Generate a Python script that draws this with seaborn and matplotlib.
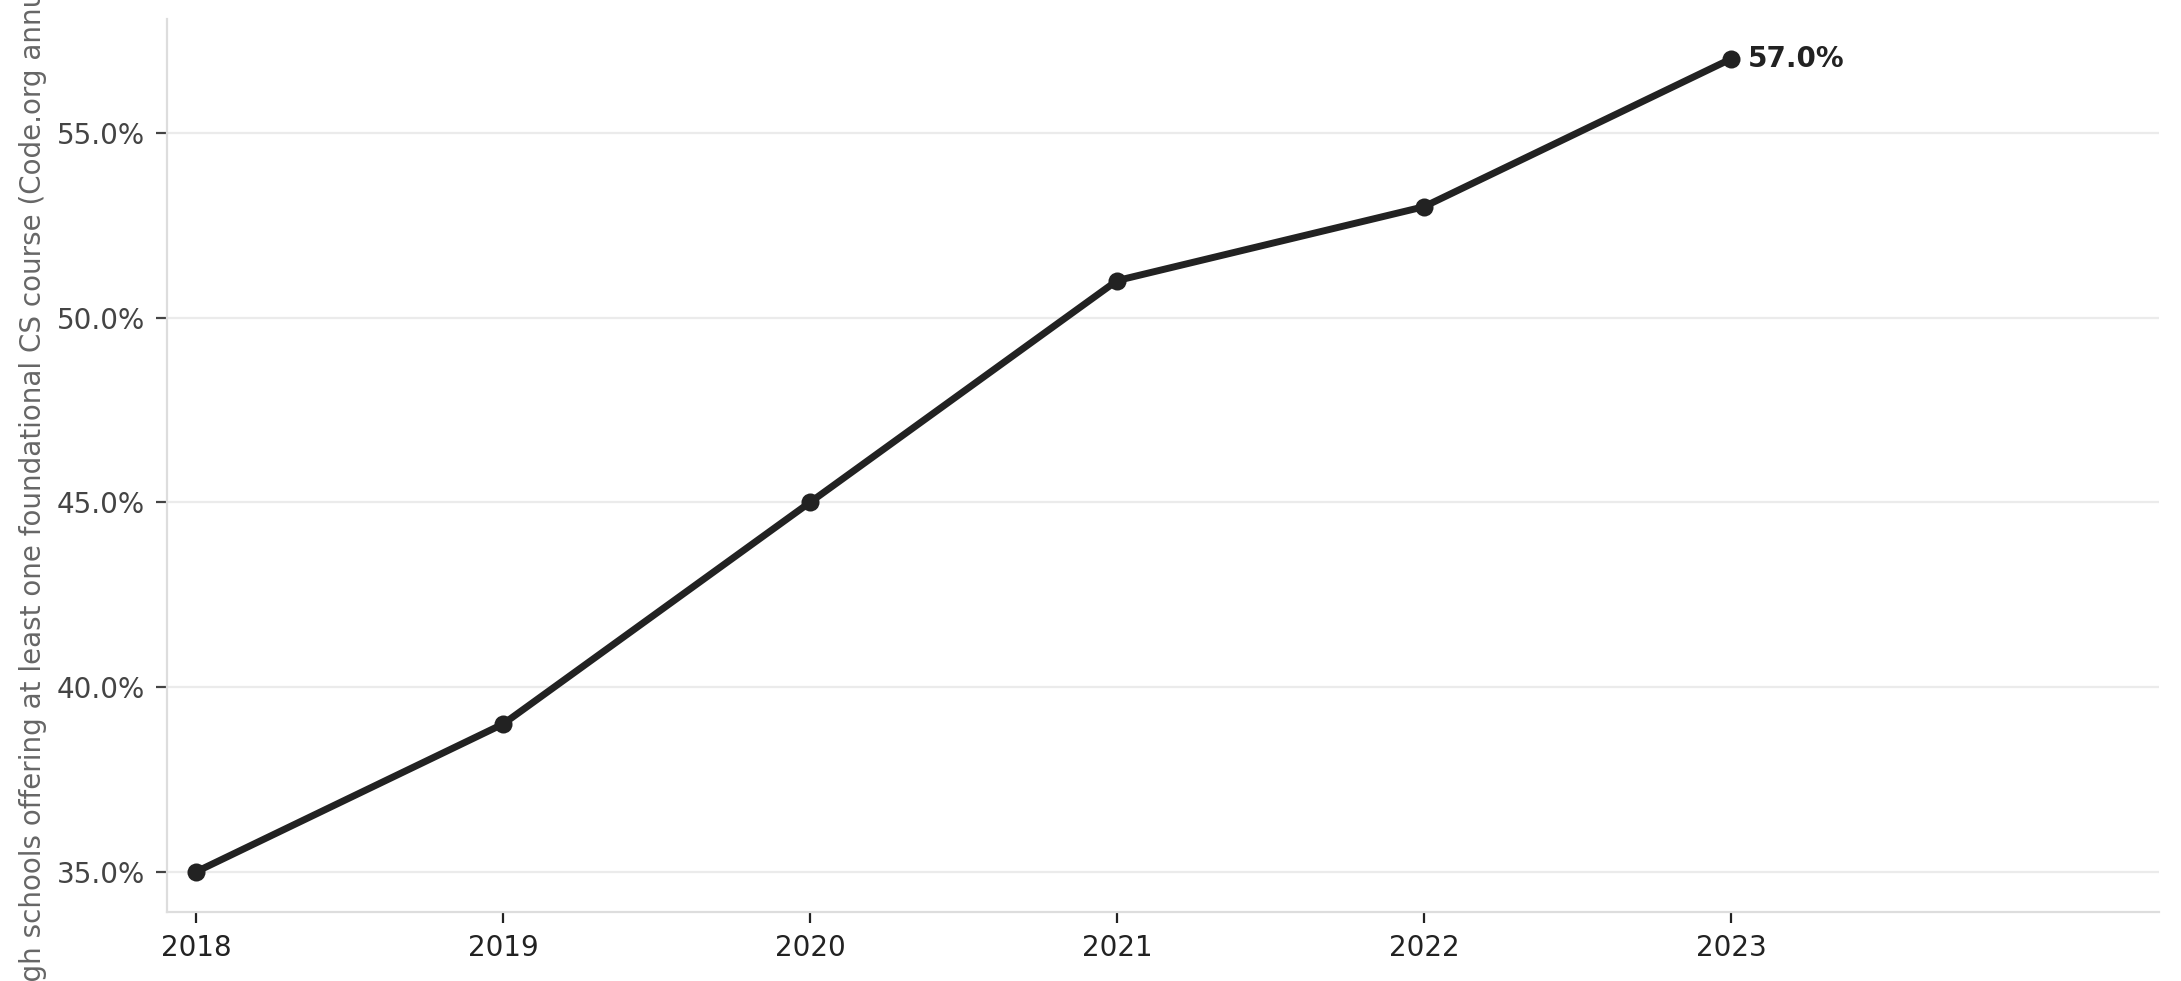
import matplotlib
matplotlib.use("Agg")
import matplotlib.pyplot as plt
import matplotlib.ticker as mticker
import seaborn as sns
import pandas as pd

years = [2018, 2019, 2020, 2021, 2022, 2023]
share = [35.0, 39.0, 45.0, 51.0, 53.0, 57.0]
ylabel = "% of U.S. high schools offering at least one foundational CS course (Code.org annual report data)"

sns.set_theme(style="white")
plt.rcParams['font.family'] = ['DejaVu Sans']

df = pd.DataFrame({'year': years, 'share': share})

fig = plt.figure(figsize=(10.905, 4.905), dpi=200)
ax = fig.add_axes([0.0766, 0.0703, 0.9134, 0.9107])

sns.lineplot(data=df, x='year', y='share', ax=ax, color='#222222', linewidth=2.5,
             marker='o', markersize=6.5, markeredgewidth=0)

last_x, last_y = years[-1], share[-1]
ax.annotate(f"{last_y:.1f}%", (last_x, last_y), xytext=(6, 0), textcoords='offset points',
            ha='left', va='center', fontsize=10, fontweight='bold', color='#222222')

ax.set_xlim(2017.905, 2024.395)
ax.set_ylim(33.91, 58.09)
ax.set_xticks(years)
ax.yaxis.set_major_locator(mticker.MultipleLocator(5))
ax.yaxis.set_major_formatter(mticker.FuncFormatter(lambda v, p: f"{v:.1f}%"))

ax.grid(axis='y', color='#ebebeb', linewidth=0.8)
ax.grid(axis='x', visible=False)
for s in ['top', 'right']:
    ax.spines[s].set_visible(False)
for s in ['left', 'bottom']:
    ax.spines[s].set_color('#dddddd')
    ax.spines[s].set_linewidth(0.8)

ax.tick_params(axis='y', left=True, length=4, width=0.8, color='#444444',
               labelsize=10, labelcolor='#444444', pad=4)
ax.tick_params(axis='x', bottom=True, length=4, width=0.8, color='#222222',
               labelsize=10, labelcolor='#222222', pad=4)

ax.set_xlabel('')
ax.set_ylabel(ylabel, fontsize=10, color='#666666', labelpad=3.5)

fig.savefig('out.png', dpi=200)
